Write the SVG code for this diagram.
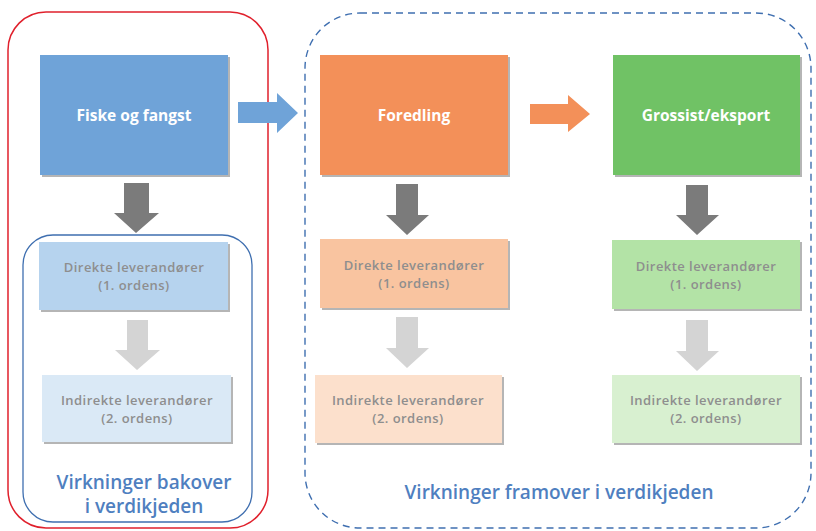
<svg xmlns="http://www.w3.org/2000/svg" width="816" height="531" viewBox="0 0 816 531">
<style>
  .main { font-family: "Open Sans", "Liberation Sans", sans-serif; font-size: 15.5px; font-weight: bold; fill: #ffffff; text-anchor: middle; }
  .sub { font-family: "Open Sans", "Liberation Sans", sans-serif; font-size: 13px; font-weight: 600; letter-spacing: 0.45px; fill: #8e8e8e; text-anchor: middle; }
  .cap { font-family: "Open Sans", "Liberation Sans", sans-serif; font-size: 19px; font-weight: 600; fill: #4f7fc0; text-anchor: middle; }
  .shadow { fill: #b5b5b5; }
  .dark { fill: #7b7b7b; }
  .light { fill: #d4d4d4; }
</style>
<rect width="816" height="531" fill="#ffffff"/>

<g id="groups">
  <rect id="bakover-outer" x="8" y="12" width="260" height="516" rx="38" fill="none" stroke="#e0202c" stroke-width="1.5"/>
  <rect id="bakover-inner" x="23" y="235" width="229" height="287" rx="30" fill="none" stroke="#3f6fb0" stroke-width="1.3"/>
  <rect id="framover" x="305" y="13" width="506" height="515" rx="55" fill="none" stroke="#3f6fb0" stroke-width="1.4" stroke-dasharray="7 5"/>
</g>

<g id="connectors">
  <polygon points="238,102 277,102 277,93 298,113 277,133 277,123 238,123" fill="#6fa3d8"/>
  <polygon points="530,104 568,104 568,95 590,114 568,132 568,124 530,124" fill="#f39059"/>
  <polygon class="dark" points="124,183 149,183 149,213 159,213 136,233 114,213 124,213"/>
  <polygon class="dark" points="396,184 418,184 418,215 429,215 407,235 386,215 396,215"/>
  <polygon class="dark" points="686,185 708,185 708,215 719,215 697,235 676,215 686,215"/>
  <polygon class="light" points="127,320 148,320 148,350 160,350 137,370 115,350 127,350"/>
  <polygon class="light" points="396,317 418,317 418,348 429,348 407,368 386,348 396,348"/>
  <polygon class="light" points="686,320 708,320 708,351 719,351 697,371 676,351 686,351"/>
</g>

<g id="fiske">
  <rect class="shadow" x="42" y="57" width="188" height="120"/>
  <rect x="40" y="55" width="188" height="120" fill="#6fa3d8"/>
  <text class="main" x="134" y="121">Fiske og fangst</text>
</g>
<g id="foredling">
  <rect class="shadow" x="322" y="57" width="188" height="120"/>
  <rect x="320" y="55" width="188" height="120" fill="#f39059"/>
  <text class="main" x="414" y="121">Foredling</text>
</g>
<g id="grossist">
  <rect class="shadow" x="615" y="57" width="187" height="120"/>
  <rect x="613" y="55" width="187" height="120" fill="#70c265"/>
  <text class="main" x="706" y="121">Grossist/eksport</text>
</g>

<g id="direkte-fiske">
  <rect class="shadow" x="41" y="244" width="189" height="68"/>
  <rect x="39" y="242" width="189" height="68" fill="#b6d3ee"/>
  <text class="sub" x="134" y="272">Direkte leverandører</text>
  <text class="sub" x="134" y="290">(1. ordens)</text>
</g>
<g id="direkte-foredling">
  <rect class="shadow" x="322" y="241" width="188" height="69"/>
  <rect x="320" y="239" width="188" height="69" fill="#f9c4a0"/>
  <text class="sub" x="414" y="270">Direkte leverandører</text>
  <text class="sub" x="414" y="288">(1. ordens)</text>
</g>
<g id="direkte-grossist">
  <rect class="shadow" x="614" y="242" width="188" height="69"/>
  <rect x="612" y="240" width="188" height="69" fill="#b3e3a6"/>
  <text class="sub" x="706" y="271">Direkte leverandører</text>
  <text class="sub" x="706" y="289">(1. ordens)</text>
</g>

<g id="indirekte-fiske">
  <rect class="shadow" x="44" y="377" width="189" height="67"/>
  <rect x="42" y="375" width="189" height="67" fill="#dae9f6"/>
  <text class="sub" x="137" y="405">Indirekte leverandører</text>
  <text class="sub" x="137" y="423">(2. ordens)</text>
</g>
<g id="indirekte-foredling">
  <rect class="shadow" x="317" y="377" width="187" height="68"/>
  <rect x="315" y="375" width="187" height="68" fill="#fce0cc"/>
  <text class="sub" x="408" y="405">Indirekte leverandører</text>
  <text class="sub" x="408" y="423">(2. ordens)</text>
</g>
<g id="indirekte-grossist">
  <rect class="shadow" x="614" y="377" width="188" height="68"/>
  <rect x="612" y="375" width="188" height="68" fill="#d8f0d0"/>
  <text class="sub" x="706" y="405">Indirekte leverandører</text>
  <text class="sub" x="706" y="423">(2. ordens)</text>
</g>

<g id="captions">
  <text class="cap" x="144" y="489">Virkninger bakover</text>
  <text class="cap" x="144" y="513">i verdikjeden</text>
  <text class="cap" x="559" y="499">Virkninger framover i verdikjeden</text>
</g>
</svg>
